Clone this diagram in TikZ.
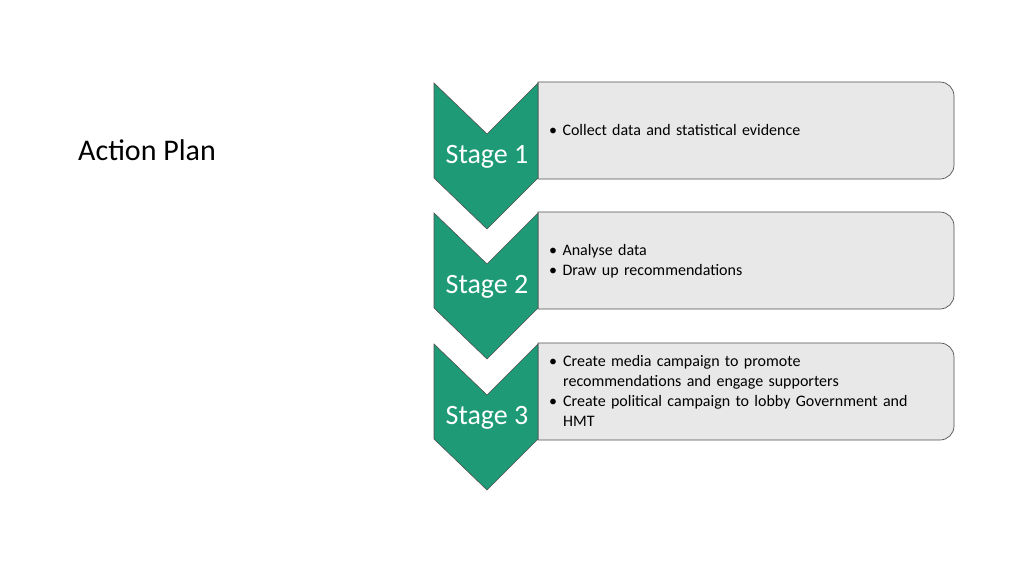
\documentclass[tikz,border=0pt]{standalone}
\usepackage{fontspec}
\setmainfont{Carlito}
\definecolor{grn}{RGB}{30,155,118}
\definecolor{boxf}{RGB}{232,232,232}
\definecolor{edge}{RGB}{80,80,80}
\begin{document}
\begin{tikzpicture}[x=1pt,y=-1pt,
  chev/.style={fill=grn,draw=edge,line width=0.6pt,line join=miter},
  infobox/.style={fill=boxf,draw=edge,line width=0.7pt},
  stagetxt/.style={text=white,font=\fontsize{28}{30}\selectfont,inner sep=0pt},
  bodytxt/.style={anchor=west,align=left,text width=395pt,font=\fontsize{16}{20}\selectfont,inner sep=0pt}]
\useasboundingbox (0,0) rectangle (1024,576);
\node[anchor=west,font=\fontsize{30}{32}\selectfont,inner sep=0pt] (title) at (78,150) {Action Plan};
\foreach \i/\y in {1/82,2/212,3/343}{
  \draw[infobox] (538,\y) -- (940,\y) [rounded corners=14pt]-- (954,\y) -- (954,\y+97) [sharp corners]-- (940,\y+97) -- (538,\y+97) -- cycle;
  \draw[chev] (434,\y+1) -- (487,\y+52) -- (538,\y+1) -- (538,\y+96) -- (487,\y+147) -- (434,\y+96) -- cycle;
}
\node[stagetxt] (s1) at (487,157) {Stage 1};
\node[stagetxt] (s2) at (487,287) {Stage 2};
\node[stagetxt] (s3) at (487,418) {Stage 3};
\node[bodytxt] (b1) at (549,130) {\textbullet\ Collect data and statistical evidence};
\node[bodytxt] (b2) at (549,261) {\textbullet\ Analyse data\\\textbullet\ Draw up recommendations};
\node[bodytxt] (b3) at (549,391) {\makebox[14pt][l]{\textbullet}Create media campaign to promote\\\hspace*{14pt}recommendations and engage supporters\\\makebox[14pt][l]{\textbullet}Create political campaign to lobby Government and\\\hspace*{14pt}HMT};
\end{tikzpicture}
\end{document}
